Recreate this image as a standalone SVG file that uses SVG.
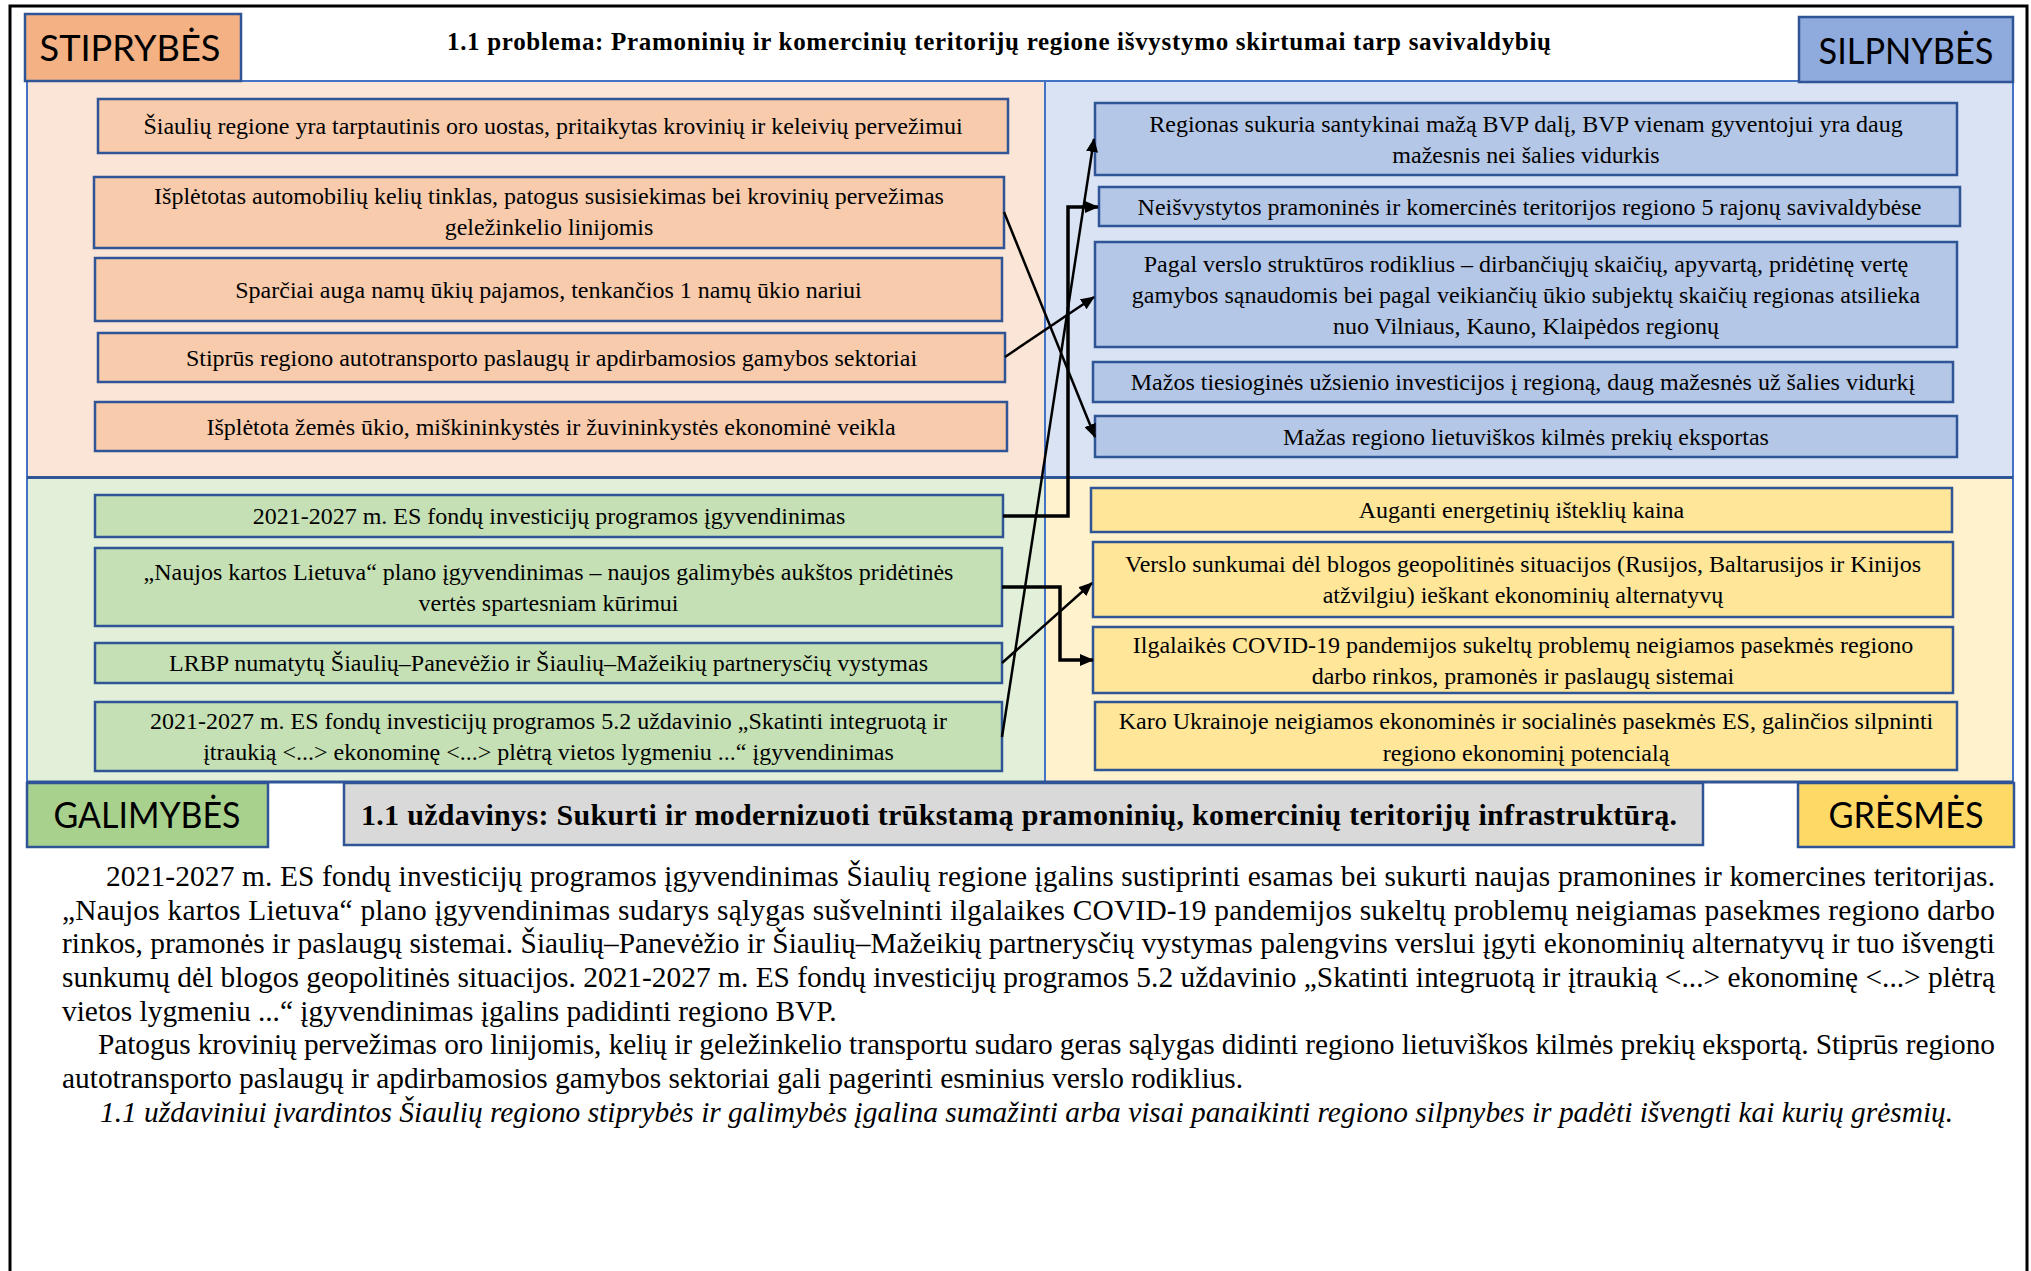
<svg xmlns="http://www.w3.org/2000/svg" width="2031" height="1271" viewBox="0 0 2031 1271">
<style>
.t{font-family:"Liberation Serif","Times New Roman",serif;font-size:24px;fill:#000;text-anchor:middle}
.p{font-family:"Liberation Serif","Times New Roman",serif;font-size:29.4px;fill:#000}
.lab{font-family:Lato,"Open Sans",sans-serif;font-size:37px;fill:#000;text-anchor:middle}
.bx{stroke:#2F5597;stroke-width:2.5}
.pan{stroke:#4472C4;stroke-width:2}
.o{fill:#F8CBAD}.b{fill:#B4C7E7}.g{fill:#C5E0B4}.y{fill:#FFE699}
.c{fill:none;stroke:#000;stroke-width:2.5}
.ce{fill:none;stroke:#000;stroke-width:3.5}
</style>
<defs>
<marker id="ah" markerUnits="userSpaceOnUse" markerWidth="14" markerHeight="12" refX="13" refY="6" orient="auto">
<path d="M0,0 L14,6 L0,12 z" fill="#000"/>
</marker>
</defs>
<rect width="2031" height="1271" fill="#fff"/>
<path d="M10,1271 L10,6 L2027,6 L2027,1271" fill="none" stroke="#000" stroke-width="3"/>

<g id="panels">
<rect class="pan" x="27" y="81" width="1018" height="396" fill="#FBE5D6"/>
<rect class="pan" x="1045" y="81" width="968" height="397" fill="#DAE3F3"/>
<rect class="pan" x="27" y="477" width="1018" height="305" fill="#E2F0D9"/>
<rect class="pan" x="1045" y="478" width="968" height="304" fill="#FFF2CC"/>
<line x1="27" y1="477.5" x2="2013" y2="477.5" stroke="#2F5597" stroke-width="3"/>
<line x1="27" y1="782" x2="2013" y2="782" stroke="#2F5597" stroke-width="3"/>
</g>

<text x="999" y="50" font-family="Liberation Serif,serif" font-weight="bold" font-size="25" text-anchor="middle" textLength="1104" lengthAdjust="spacing">1.1 problema: Pramoninių ir komercinių teritorijų  regione išvystymo skirtumai tarp savivaldybių</text>

<g id="stiprybes"><rect class="bx" x="25" y="14" width="216" height="67" fill="#F4B183"/><text class="lab" x="130" y="61" textLength="181" lengthAdjust="spacingAndGlyphs">STIPRYBĖS</text></g>
<g id="silpnybes"><rect class="bx" x="1799" y="17" width="214" height="65" fill="#8FAADC"/><text class="lab" x="1906" y="64" textLength="175" lengthAdjust="spacingAndGlyphs">SILPNYBĖS</text></g>
<g id="galimybes"><rect class="bx" x="27" y="783" width="241" height="64" fill="#A9D18E"/><text class="lab" x="147" y="828" textLength="187" lengthAdjust="spacingAndGlyphs">GALIMYBĖS</text></g>
<g id="gresmes"><rect class="bx" x="1798" y="783" width="216" height="64" fill="#FFD966"/><text class="lab" x="1906" y="828" textLength="155" lengthAdjust="spacingAndGlyphs">GRĖSMĖS</text></g>
<g id="uzdavinys"><rect class="bx" x="344" y="783" width="1359" height="62" fill="#D9D9D9"/><text x="361" y="825" font-family="Liberation Serif,serif" font-weight="bold" font-size="30" textLength="1316" lengthAdjust="spacing">1.1 uždavinys: Sukurti ir modernizuoti trūkstamą pramoninių, komercinių teritorijų infrastruktūrą.</text></g>

<g id="o1"><rect class="bx o" x="98" y="99" width="910" height="54"/><text class="t" x="553" y="134">Šiaulių regione yra tarptautinis oro uostas, pritaikytas krovinių ir keleivių pervežimui</text></g>
<g id="o2"><rect class="bx o" x="94" y="177" width="910" height="71"/><text class="t" x="549" y="204">Išplėtotas automobilių kelių tinklas, patogus susisiekimas bei krovinių pervežimas</text><text class="t" x="549" y="235">geležinkelio linijomis</text></g>
<g id="o3"><rect class="bx o" x="95" y="258" width="907" height="63"/><text class="t" x="548.5" y="298">Sparčiai auga namų ūkių pajamos, tenkančios 1 namų ūkio nariui</text></g>
<g id="o4"><rect class="bx o" x="98" y="333" width="907" height="49"/><text class="t" x="551.5" y="366">Stiprūs regiono autotransporto paslaugų ir apdirbamosios gamybos sektoriai</text></g>
<g id="o5"><rect class="bx o" x="95" y="402" width="912" height="49"/><text class="t" x="551" y="435">Išplėtota žemės ūkio, miškininkystės ir žuvininkystės ekonominė veikla</text></g>

<g id="b1"><rect class="bx b" x="1095" y="103" width="862" height="72"/><text class="t" x="1526" y="132">Regionas sukuria santykinai mažą BVP dalį, BVP vienam gyventojui yra daug</text><text class="t" x="1526" y="163">mažesnis nei šalies vidurkis</text></g>
<g id="b2"><rect class="bx b" x="1099" y="187" width="861" height="39"/><text class="t" x="1529.5" y="215">Neišvystytos pramoninės ir komercinės teritorijos regiono 5 rajonų savivaldybėse</text></g>
<g id="b3"><rect class="bx b" x="1095" y="242" width="862" height="105"/><text class="t" x="1526" y="272">Pagal verslo struktūros rodiklius – dirbančiųjų skaičių, apyvartą, pridėtinę vertę</text><text class="t" x="1526" y="303">gamybos sąnaudomis bei pagal veikiančių ūkio subjektų skaičių regionas atsilieka</text><text class="t" x="1526" y="334">nuo Vilniaus, Kauno, Klaipėdos regionų</text></g>
<g id="b4"><rect class="bx b" x="1093" y="362" width="860" height="40"/><text class="t" x="1523" y="390">Mažos tiesioginės užsienio investicijos į regioną, daug mažesnės už šalies vidurkį</text></g>
<g id="b5"><rect class="bx b" x="1095" y="416" width="862" height="41"/><text class="t" x="1526" y="445">Mažas regiono lietuviškos kilmės prekių eksportas</text></g>

<g id="g1"><rect class="bx g" x="95" y="495" width="908" height="42"/><text class="t" x="549" y="524">2021-2027 m. ES fondų investicijų programos įgyvendinimas</text></g>
<g id="g2"><rect class="bx g" x="95" y="548" width="907" height="78"/><text class="t" x="548.5" y="580">„Naujos kartos Lietuva“ plano įgyvendinimas – naujos galimybės aukštos pridėtinės</text><text class="t" x="548.5" y="611">vertės spartesniam kūrimui</text></g>
<g id="g3"><rect class="bx g" x="95" y="643" width="907" height="40"/><text class="t" x="548.5" y="671">LRBP numatytų Šiaulių–Panevėžio ir Šiaulių–Mažeikių partnerysčių vystymas</text></g>
<g id="g4"><rect class="bx g" x="95" y="702" width="907" height="69"/><text class="t" x="548.5" y="729">2021-2027 m. ES fondų investicijų programos 5.2 uždavinio „Skatinti integruotą ir</text><text class="t" x="548.5" y="760">įtraukią &lt;...&gt; ekonominę &lt;...&gt; plėtrą vietos lygmeniu ...“ įgyvendinimas</text></g>

<g id="y1"><rect class="bx y" x="1091" y="488" width="861" height="44"/><text class="t" x="1521.5" y="518">Auganti energetinių išteklių kaina</text></g>
<g id="y2"><rect class="bx y" x="1093" y="542" width="860" height="75"/><text class="t" x="1523" y="572">Verslo sunkumai dėl blogos geopolitinės situacijos (Rusijos, Baltarusijos ir Kinijos</text><text class="t" x="1523" y="603">atžvilgiu) ieškant ekonominių alternatyvų</text></g>
<g id="y3"><rect class="bx y" x="1093" y="627" width="860" height="66"/><text class="t" x="1523" y="653">Ilgalaikės COVID-19 pandemijos sukeltų problemų neigiamos pasekmės regiono</text><text class="t" x="1523" y="684">darbo rinkos, pramonės ir paslaugų sistemai</text></g>
<g id="y4"><rect class="bx y" x="1095" y="702" width="862" height="68"/><text class="t" x="1526" y="729">Karo Ukrainoje neigiamos ekonominės ir socialinės pasekmės ES, galinčios silpninti</text><text class="t" x="1526" y="761">regiono ekonominį potencialą</text></g>

<g id="connectors">
<path class="c" d="M1004,212 L1095,437" marker-end="url(#ah)"/>
<path class="c" d="M1005,357 L1094,297" marker-end="url(#ah)"/>
<path class="ce" d="M1003,516 L1068,516 L1068,207 L1098,207" marker-end="url(#ah)"/>
<path class="c" d="M1002,737 L1094,139" marker-end="url(#ah)"/>
<path class="ce" d="M1002,587 L1060,587 L1060,660 L1093,660" marker-end="url(#ah)"/>
<path class="c" d="M1002,663 L1092,583" marker-end="url(#ah)"/>
</g>

<g id="paragraph">
<text class="p" x="106" y="886" textLength="1889" lengthAdjust="spacing">2021-2027 m. ES fondų investicijų programos įgyvendinimas Šiaulių regione įgalins sustiprinti esamas bei sukurti naujas pramonines ir komercines teritorijas.</text>
<text class="p" x="62" y="920" textLength="1933" lengthAdjust="spacing">„Naujos kartos Lietuva“ plano įgyvendinimas sudarys sąlygas sušvelninti ilgalaikes COVID-19 pandemijos sukeltų problemų neigiamas pasekmes regiono darbo</text>
<text class="p" x="62" y="953" textLength="1933" lengthAdjust="spacing">rinkos, pramonės ir paslaugų sistemai. Šiaulių–Panevėžio ir Šiaulių–Mažeikių partnerysčių vystymas palengvins verslui įgyti ekonominių alternatyvų ir tuo išvengti</text>
<text class="p" x="62" y="987" textLength="1933" lengthAdjust="spacing">sunkumų dėl blogos geopolitinės situacijos. 2021-2027 m. ES fondų investicijų programos 5.2 uždavinio „Skatinti integruotą ir įtraukią &lt;...&gt; ekonominę &lt;...&gt; plėtrą</text>
<text class="p" x="62" y="1021">vietos lygmeniu ...“ įgyvendinimas įgalins padidinti regiono BVP.</text>
<text class="p" x="98" y="1054" textLength="1897" lengthAdjust="spacing">Patogus krovinių pervežimas oro linijomis, kelių ir geležinkelio transportu sudaro geras sąlygas didinti regiono lietuviškos kilmės prekių eksportą. Stiprūs regiono</text>
<text class="p" x="62" y="1088">autotransporto paslaugų ir apdirbamosios gamybos sektoriai gali pagerinti esminius verslo rodiklius.</text>
<text class="p" x="100" y="1122" font-style="italic">1.1 uždaviniui įvardintos Šiaulių regiono stiprybės ir galimybės įgalina sumažinti arba visai panaikinti regiono silpnybes ir padėti išvengti kai kurių grėsmių.</text>
</g>
</svg>
